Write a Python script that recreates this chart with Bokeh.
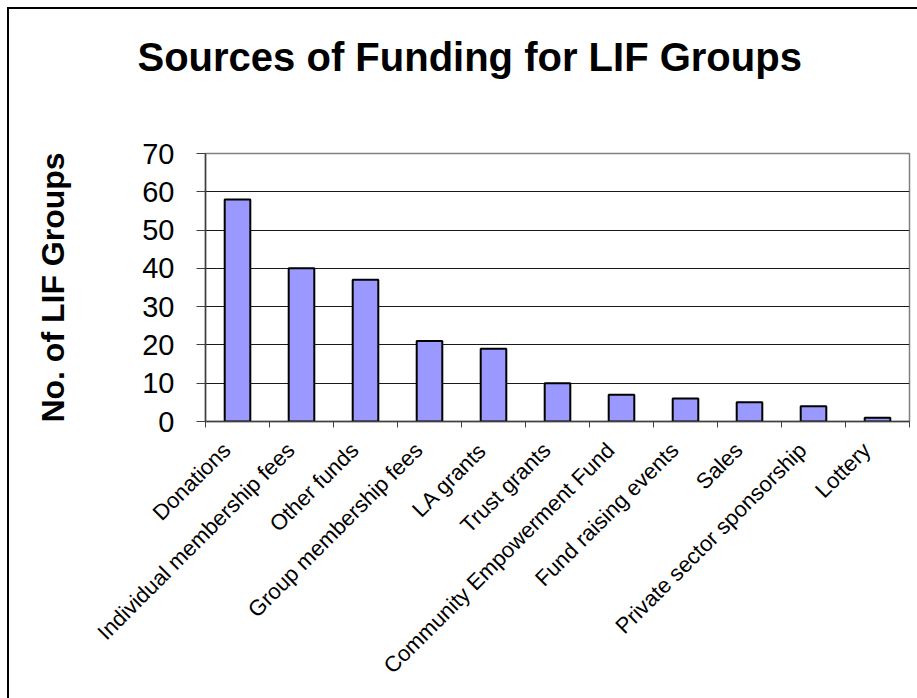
import math
from bokeh.plotting import figure
from bokeh.models import FixedTicker, Range1d, ColumnDataSource, InlineStyleSheet, Title
from bokeh.embed import file_html
from bokeh.resources import INLINE

categories = [
    "Donations",
    "Individual membership fees",
    "Other funds",
    "Group membership fees",
    "LA grants",
    "Trust grants",
    "Community Empowerment Fund",
    "Fund raising events",
    "Sales",
    "Private sector sponsorship",
    "Lottery",
]
counts = [58, 40, 37, 21, 19, 10, 7, 6, 5, 4, 1]
y_ticks = [0, 10, 20, 30, 40, 50, 60, 70]
title_text = "Sources of Funding for LIF Groups"

FONT = "Liberation Sans"
W, H = 917, 698

n = len(categories)
centers = [i + 0.5 for i in range(n)]
label_pos = [c - 0.17 for c in centers]   # Excel-style rotated label anchor
source = ColumnDataSource(dict(x=centers, top=counts, name=categories))

p = figure(
    width=W, height=H,
    x_range=Range1d(0, n), y_range=Range1d(0, 70),
    output_backend="svg", toolbar_location=None,
    min_border_left=205, min_border_right=8,
    min_border_top=153, min_border_bottom=277,
)
p.title = None
p.background_fill_color = "white"
p.border_fill_color = "white"
p.outline_line_color = "#808080"
p.outline_line_width = 1.5

# spacer (nearest the frame) then the real title above it
p.add_layout(Title(text=" ", text_font_size="1px", standoff=67), "above")
p.add_layout(Title(text=title_text, text_font=FONT, text_font_size="40px",
                   text_font_style="bold", text_color="black",
                   align="left", offset=-68, standoff=10), "above")

p.vbar(x="x", top="top", width=0.4, bottom=0, source=source,
       fill_color="#9999FF", line_color="black", line_width=2)

# grid
p.xgrid.visible = False
p.ygrid.ticker = FixedTicker(ticks=y_ticks)
p.ygrid.grid_line_color = "#1a1a1a"
p.ygrid.grid_line_width = 1

# y axis
ya = p.yaxis[0]
ya.ticker = FixedTicker(ticks=y_ticks)
ya.axis_label = "No. of LIF Groups"
ya.axis_label_text_font = FONT
ya.axis_label_text_font_size = "32px"
ya.axis_label_text_font_style = "bold"
ya.axis_label_text_color = "black"
ya.axis_label_standoff = 68
ya.major_label_text_font = FONT
ya.major_label_text_font_size = "29px"
ya.major_label_text_color = "black"
ya.major_label_standoff = 22
ya.major_tick_out = 9
ya.major_tick_in = 0
ya.minor_tick_line_color = None
ya.axis_line_color = "#404040"
ya.axis_line_width = 1.5
ya.major_tick_line_color = "#404040"

# x axis: labels for categories, ticks at category boundaries
xa = p.xaxis[0]
xa.ticker = FixedTicker(ticks=label_pos, minor_ticks=list(range(n + 1)))
xa.major_label_overrides = {c: name for c, name in zip(label_pos, categories)}
xa.major_label_orientation = math.pi / 4
xa.major_label_text_font = FONT
xa.major_label_text_font_size = "22px"
xa.major_label_text_color = "black"
xa.major_label_standoff = 19
xa.major_tick_line_color = None
xa.minor_tick_out = 6
xa.minor_tick_in = 0
xa.minor_tick_line_color = "#404040"
xa.axis_line_color = "#404040"
xa.axis_line_width = 1.5

# outer chart-area border (left and top edges visible in the window)
p.stylesheets = [InlineStyleSheet(css="""
:host::after {
  content: "";
  position: absolute;
  left: 7px; top: 7px; right: 0; bottom: 0;
  border-left: 2px solid black;
  border-top: 2px solid black;
  pointer-events: none;
}
""")]

open("out.html", "w").write(file_html(p, INLINE))
